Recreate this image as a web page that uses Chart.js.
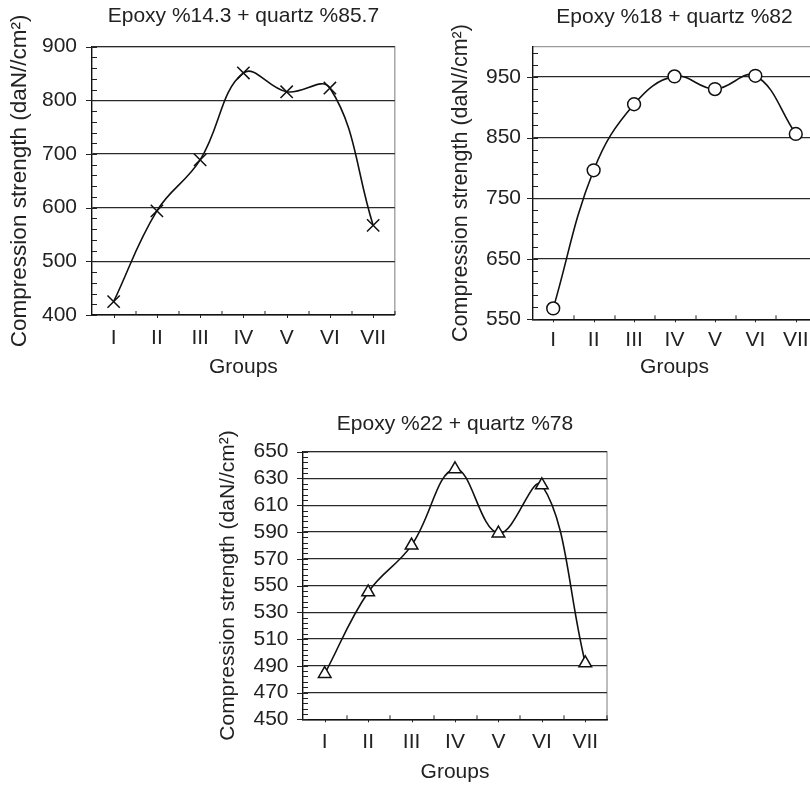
<!DOCTYPE html>
<html>
<head>
<meta charset="utf-8">
<script src="https://cdn.jsdelivr.net/npm/chart.js@4.4.1/dist/chart.umd.min.js"></script>
<style>
  html, body { margin: 0; padding: 0; background: #fff; overflow: hidden; }
  body { width: 810px; height: 786px; position: relative; }
  .box { position: absolute; }
</style>
</head>
<body>
<div class="box" style="left:0;top:0;width:405px;height:390px"><canvas id="chartOne"></canvas></div>
<div class="box" style="left:405px;top:0;width:430px;height:390px"><canvas id="chartTwo"></canvas></div>
<div class="box" style="left:180px;top:390px;width:440px;height:396px"><canvas id="chartThree"></canvas></div>
<script>
//chart data
const groups = ["I", "II", "III", "IV", "V", "VI", "VII"];

const strength143 = [425, 594, 689, 851, 816, 823, 567];
const strength18 = [568, 796, 905, 951, 930, 952, 856];
const strength22 = [484, 545, 580, 637, 589, 625, 492];

const yTicks143 = [400, 500, 600, 700, 800, 900];
const yTicks18 = [550, 650, 750, 850, 950];
const yTicks22 = [450, 470, 490, 510, 530, 550, 570, 590, 610, 630, 650];

const fontFamily = "'Liberation Sans', Arial, sans-serif";
const textColor = "#222";

// gray frame on top/right, minor ticks on the y axis, little ticks on x axis
const frameTicks = {
  id: "frameTicks",
  beforeDraw(chart) {
    const ctx = chart.ctx;
    const { left, right, top, bottom } = chart.chartArea;
    ctx.save();
    ctx.strokeStyle = "#9a9a9a";
    ctx.lineWidth = 1.3;
    ctx.beginPath();
    ctx.moveTo(left, top);
    ctx.lineTo(right, top);
    ctx.lineTo(right, bottom);
    ctx.stroke();
    ctx.restore();
  },
  afterDraw(chart, args, opts) {
    const ctx = chart.ctx;
    const { left, bottom } = chart.chartArea;
    const yScale = chart.scales.y;
    const xScale = chart.scales.x;
    ctx.save();
    ctx.strokeStyle = "#222";
    ctx.lineWidth = 1;
    ctx.beginPath();
    for (let v = yScale.min; v <= yScale.max + 0.001; v += opts.minor) {
      let py = Math.round(yScale.getPixelForValue(v)) + 0.5;
      ctx.moveTo(left, py);
      ctx.lineTo(left + 5, py);
    }
    for (let v of opts.major) {
      let py = Math.round(yScale.getPixelForValue(v)) + 0.5;
      ctx.moveTo(left - 6, py);
      ctx.lineTo(left + 5, py);
    }
    for (let k = 0; k < groups.length; k++) {
      let px = Math.round(xScale.getPixelForValue(k)) + 0.5;
      ctx.moveTo(px, bottom);
      ctx.lineTo(px, bottom + 3);
      let edge = Math.round(px + (xScale.getPixelForValue(1) - xScale.getPixelForValue(0)) / 2);
      ctx.moveTo(edge, bottom);
      ctx.lineTo(edge, bottom - 4);
    }
    ctx.stroke();
    ctx.restore();
  },
};

function makeChart(id, values, yTicks, s) {
  const data = {
    labels: groups,
    datasets: [
      {
        data: values,
        borderColor: "#111",
        borderWidth: 1.6,
        tension: 0.4,
        pointStyle: s.point,
        pointRadius: s.radius,
        pointBorderWidth: 1.5,
        pointBorderColor: "#111",
        pointBackgroundColor: "#fff",
      },
    ],
  };

  const config = {
    type: "line",
    data: data,
    plugins: [frameTicks],
    options: {
      responsive: true,
      maintainAspectRatio: false,
      animation: false,
      layout: { padding: { left: 0, right: s.padRight, top: 0, bottom: 0 } },
      plugins: {
        legend: { display: false },
        tooltip: { enabled: false },
        title: {
          display: true,
          text: s.title,
          fullSize: false,
          color: textColor,
          font: { family: fontFamily, size: 21, weight: "normal" },
          padding: { top: s.titleTop, bottom: s.titleBottom },
        },
        frameTicks: { minor: s.minor, major: yTicks },
      },
      scales: {
        x: {
          offset: true,
          grid: { drawOnChartArea: false, drawTicks: false },
          border: { color: "#111", width: 1.4 },
          ticks: {
            color: textColor,
            padding: s.xPad,
            font: { family: fontFamily, size: 21 },
            maxRotation: 0,
            autoSkip: false,
          },
          title: {
            display: true,
            text: "Groups",
            color: textColor,
            font: { family: fontFamily, size: 21 },
            padding: { top: 0, bottom: s.xTitlePad },
          },
          afterFit: (scale) => {
            scale.height = s.xHeight;
          },
        },
        y: {
          min: s.min,
          max: s.max,
          afterBuildTicks: (scale) => {
            scale.ticks = yTicks.map((v) => ({ value: v }));
          },
          grid: { color: "#2a2a2a", lineWidth: 1.2, drawTicks: false },
          border: { color: "#111", width: 1.4 },
          ticks: {
            color: textColor,
            padding: s.yPad,
            font: { family: fontFamily, size: 21 },
            autoSkip: false,
          },
          title: {
            display: true,
            text: "Compression strength (daN//cm²)",
            color: textColor,
            font: { family: fontFamily, size: s.yTitleSize },
            padding: { top: s.yTitlePad, bottom: 0 },
          },
          afterFit: (scale) => {
            scale.width = s.yWidth;
          },
        },
      },
    },
  };

  return new Chart(document.getElementById(id), config);
}

makeChart("chartOne", strength143, yTicks143, {
  title: "Epoxy %14.3 + quartz %85.7",
  point: "crossRot",
  radius: 8.7,
  min: 400,
  max: 900,
  minor: 20,
  padRight: 8,
  titleTop: 4,
  titleBottom: 17.5,
  yWidth: 92,
  yPad: 15,
  yTitleSize: 22.5,
  yTitlePad: 6.5,
  xHeight: 75,
  xPad: 11,
  xTitlePad: 10,
});

makeChart("chartTwo", strength18, yTicks18, {
  title: "Epoxy %18 + quartz %82",
  point: "circle",
  radius: 6.4,
  min: 550,
  max: 1000,
  minor: 20,
  padRight: 19,
  titleTop: 5,
  titleBottom: 16.5,
  yWidth: 128,
  yPad: 12,
  yTitleSize: 21.5,
  yTitlePad: 43,
  xHeight: 70.7,
  xPad: 8.6,
  xTitlePad: 10,
});

makeChart("chartThree", strength22, yTicks22, {
  title: "Epoxy %22 + quartz %78",
  point: "triangle",
  radius: 7.3,
  min: 450,
  max: 650,
  minor: 4,
  padRight: 13,
  titleTop: 21.4,
  titleBottom: 15.1,
  yWidth: 123,
  yPad: 14.5,
  yTitleSize: 21,
  yTitlePad: 35.4,
  xHeight: 66.7,
  xPad: 10,
  xTitlePad: 1,
});
</script>
</body>
</html>
